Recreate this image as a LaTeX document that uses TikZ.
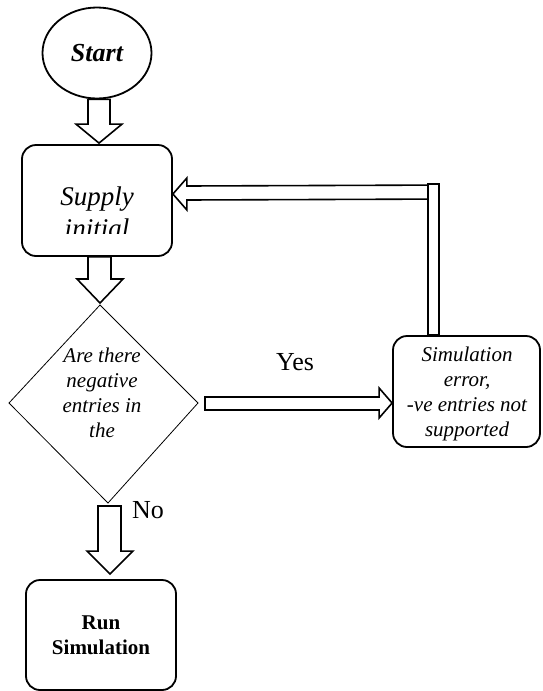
\documentclass[tikz,border=0pt]{standalone}
\usepackage{fontspec}
\setmainfont{Liberation Serif}
\usetikzlibrary{shapes.geometric,calc}
\begin{document}
\begin{tikzpicture}[x=1pt,y=-1pt,
  box/.style={draw, line width=1.8pt, rounded corners=14pt, inner sep=0pt},
  fat/.style={draw, line width=1.6pt, fill=white, line join=miter},
  big/.style={font=\fontsize{26}{30}\selectfont},
  small/.style={font=\fontsize{21}{25}\selectfont\itshape, align=center, inner sep=0pt}]
\useasboundingbox (0,0) rectangle (542,691);

% nodes
\node[draw, ellipse, line width=1.8pt, minimum width=109pt, minimum height=91pt, inner sep=0pt,
      font=\fontsize{26}{30}\selectfont\bfseries\itshape] (start) at (97,53) {Start};

\node[box, minimum width=150pt, minimum height=111pt] (supply) at (97,200.5) {};
\begin{scope}
  \clip (22,145) rectangle (172,233);
  \node[anchor=base, inner sep=0pt, font=\fontsize{27}{32}\selectfont\itshape] (supplyA) at (97,205) {Supply};
  \node[anchor=base, inner sep=0pt, font=\fontsize{27}{32}\selectfont\itshape] (supplyB) at (97,237) {initial};
\end{scope}

\coordinate (dt) at (100,305);
\coordinate (dr) at (198,403);
\coordinate (db) at (108,503);
\coordinate (dl) at (9,403);
\draw[line width=0.8pt] (dt) -- (dr) -- (db) -- (dl) -- cycle;
\node[small] (q) at (102,393) {Are there\\negative\\entries in\\the};

\node[box, minimum width=147pt, minimum height=111pt] (err) at (466.5,391.5) {};
\node[small] (errtext) at (467,394) {Simulation\\error,\\-ve entries not\\supported};

\node[box, minimum width=150pt, minimum height=110pt,
      font=\fontsize{21}{25}\selectfont\bfseries, align=center] (run) at (101,635) {Run\\Simulation};

% connectors
\draw[fat] ([shift={(-9,0)}]start.south) -- ([shift={(-9,-20)}]supply.north)
  -- ([shift={(-21,-20)}]supply.north) -- ([shift={(2,-1)}]supply.north)
  -- ([shift={(25,-20)}]supply.north) -- ([shift={(13,-20)}]supply.north)
  -- ([shift={(13,0)}]start.south) -- cycle;

\draw[fat] ([shift={(-9,0)}]supply.south) -- ([shift={(-12,-26)}]dt)
  -- ([shift={(-23,-26)}]dt) -- ([shift={(0,-2)}]dt)
  -- ([shift={(23,-26)}]dt) -- ([shift={(11,-26)}]dt)
  -- ([shift={(14,0)}]supply.south) -- cycle;

\draw[fat] ([shift={(-10,3)}]db) -- ([shift={(-3,-28)}]run.north)
  -- ([shift={(-14,-28)}]run.north) -- ([shift={(9,-5)}]run.north)
  -- ([shift={(32,-28)}]run.north) -- ([shift={(20,-28)}]run.north)
  -- ([shift={(13,3)}]db) -- cycle;

\draw[fat] ([shift={(7,-6)}]dr) -- ([shift={(-13,5.5)}]err.west)
  -- ([shift={(-13,-3.5)}]err.west) -- ([shift={(0,11.5)}]err.west)
  -- ([shift={(-13,26.5)}]err.west) -- ([shift={(-13,18.5)}]err.west)
  -- ([shift={(7,7)}]dr) -- cycle;

\fill[white] ([shift={(-38.5,-150)}]err.north) -- ([shift={(14,-14.5)}]supply.east)
  -- ([shift={(14,-22.5)}]supply.east) -- ([shift={(0,-6.5)}]supply.east)
  -- ([shift={(14,9.5)}]supply.east) -- ([shift={(14,-0.5)}]supply.east)
  -- ([shift={(-38.5,-136)}]err.north) -- cycle;
\draw[fat] ([shift={(-38.5,-150)}]err.north) -- ([shift={(14,-14.5)}]supply.east)
  -- ([shift={(14,-22.5)}]supply.east) -- ([shift={(0,-6.5)}]supply.east)
  -- ([shift={(14,9.5)}]supply.east) -- ([shift={(14,-0.5)}]supply.east)
  -- ([shift={(-38.5,-136)}]err.north);
\draw[fat] ([shift={(-38.5,0)}]err.north) rectangle ([shift={(-27.5,-151)}]err.north);

% labels
\node[big, inner sep=0pt] (yes) at (295,362) {Yes};
\node[big, inner sep=0pt, anchor=west] (no) at (132,510) {No};
\end{tikzpicture}
\end{document}
